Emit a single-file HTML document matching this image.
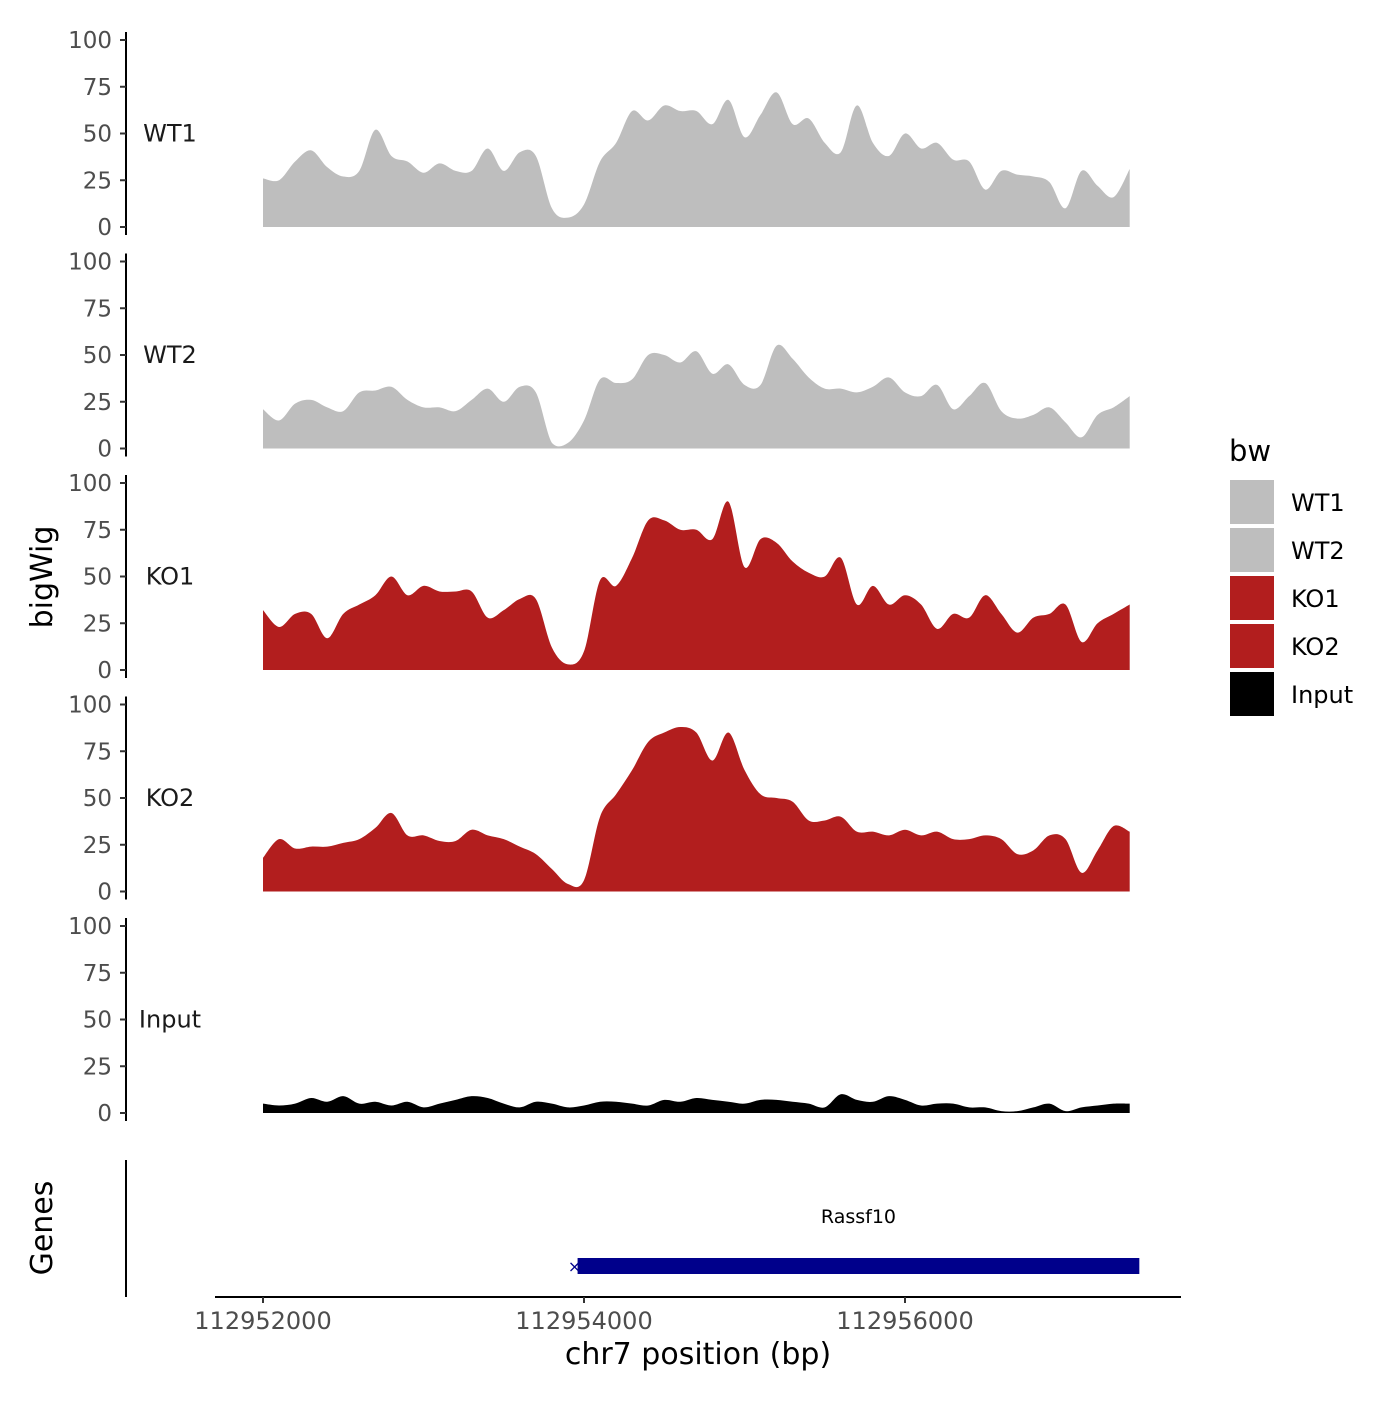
<!DOCTYPE html>
<html><head><meta charset="utf-8"><style>
html,body{margin:0;padding:0;background:#fff;}
svg text{font-family:"DejaVu Sans","Liberation Sans",sans-serif;}
</style></head><body>
<svg id="chart" width="1400" height="1400" xmlns="http://www.w3.org/2000/svg">
<g id="panels"></g>
<g id="genes">
<line x1="126" y1="1160" x2="126" y2="1297" stroke="#000" stroke-width="2"/>
<text x="52" y="1228" font-size="30" text-anchor="middle" transform="rotate(-90 52 1228)">Genes</text>
</g>
<g id="xaxis">
<line x1="215" y1="1297" x2="1181" y2="1297" stroke="#000" stroke-width="2"/>
</g>
<text x="698" y="1364" font-size="30" text-anchor="middle">chr7 position (bp)</text>
<text x="52" y="577" font-size="30" text-anchor="middle" transform="rotate(-90 52 577)">bigWig</text>
<g id="legend">
<text x="1229" y="461" font-size="29">bw</text>
</g>
</svg>
<script>
const tracks = ["WT1","WT2","KO1","KO2","Input"];
const colors = ["#BEBEBE","#BEBEBE","#B21E1E","#B21E1E","#000000"];
const startBp = 112952000;
const stepBp = 100;
const wt1 = [26,25,35,41,32,27,30,52,38,35,29,34,30,30,42,30,40,38,10,5,12,35,45,62,57,65,62,62,55,68,48,60,72,55,58,45,40,65,45,38,50,42,45,36,35,20,30,28,27,24,10,30,22,16,31];
const wt2 = [21,15,24,26,22,20,30,31,33,26,22,22,20,26,32,25,33,30,3,3,15,37,35,37,50,50,46,52,40,45,34,34,55,48,38,32,32,30,33,38,30,28,34,21,28,35,20,16,18,22,14,6,18,22,28];
const ko1 = [32,23,30,30,17,30,35,40,50,40,45,42,42,42,28,32,38,38,12,3,10,48,45,60,80,80,75,75,70,90,55,70,68,58,52,50,60,35,45,35,40,35,22,30,28,40,30,20,28,30,35,15,25,30,35];
const ko2 = [18,28,23,24,24,26,28,34,42,30,30,27,27,33,30,28,24,20,12,4,6,40,52,65,80,85,88,85,70,85,65,52,50,48,38,38,40,32,32,30,33,30,32,28,28,30,28,20,22,30,28,10,22,35,32];
const input = [5,4,5,8,6,9,5,6,4,6,3,5,7,9,8,5,3,6,5,3,4,6,6,5,4,7,6,8,7,6,5,7,7,6,5,3,10,7,6,9,7,4,5,5,3,3,1,1,3,5,1,3,4,5,5];
const seriesVals = [wt1,wt2,ko1,ko2,input];
const yTicks = [0,25,50,75,100];
const xTicks = [112952000,112954000,112956000];
const xTickLabels = ["112952000","112954000","112956000"];
const geneStart = 112953960, geneEnd = 112957460, geneName = "Rassf10";

const NS="http://www.w3.org/2000/svg";
function mk(tag, attrs, parent){const e=document.createElementNS(NS,tag);for(const k in attrs)e.setAttribute(k,attrs[k]);parent.appendChild(e);return e;}
function xs(bp){return 263 + (bp-startBp)*(321/2000);}
const panelZero=[227,448.5,670,891.5,1113];
function ys(v,p){return panelZero[p]-v*1.87;}

const panels=document.getElementById('panels');
tracks.forEach((t,p)=>{
  const g=mk('g',{},panels);
  
  
  const vals=seriesVals[p];
  const pts=vals.map((v,i)=>[xs(startBp+i*stepBp),ys(v,p)]);
  let d='M'+pts[0][0]+','+panelZero[p]+' L'+pts[0][0]+','+pts[0][1];
  for(let i=0;i<pts.length-1;i++){
    const p0=pts[Math.max(0,i-1)],p1=pts[i],p2=pts[i+1],p3=pts[Math.min(pts.length-1,i+2)];
    const c1=[p1[0]+(p2[0]-p0[0])/6,Math.min(panelZero[p],p1[1]+(p2[1]-p0[1])/6)];
    const c2=[p2[0]-(p3[0]-p1[0])/6,Math.min(panelZero[p],p2[1]-(p3[1]-p1[1])/6)];
    d+=' C'+c1[0]+','+c1[1]+' '+c2[0]+','+c2[1]+' '+p2[0]+','+p2[1];
  }
  d+=' L'+pts[pts.length-1][0]+','+panelZero[p]+' Z';
  const area=mk('path',{d:d,fill:colors[p]},g);
  
  
  const ax=mk('line',{x1:126,x2:126,y1:ys(100,p)-8,y2:panelZero[p]+8,stroke:'#000','stroke-width':2},g);
  
  
  yTicks.forEach(v=>{
    const y=ys(v,p);
    const tk=mk('line',{x1:120,x2:126,y1:y,y2:y,stroke:'#333','stroke-width':2},g);
    
    
    const tl=mk('text',{x:112,y:y+8,'font-size':23,'text-anchor':'end',fill:'#4d4d4d'},g);
    tl.textContent=v;
    
    
  });
  const lab=mk('text',{x:170,y:ys(50,p)+8,'font-size':24,'text-anchor':'middle',fill:'#1a1a1a'},g);
  lab.textContent=t;
  
  
});

const xa=document.getElementById('xaxis');
xTicks.forEach((bp,i)=>{
  const x=xs(bp);
  const tk=mk('line',{x1:x,x2:x,y1:1297,y2:1303,stroke:'#333','stroke-width':2},xa);
  
  
  const tl=mk('text',{x:x,y:1329,'font-size':24,'text-anchor':'middle',fill:'#4d4d4d'},xa);
  tl.textContent=xTickLabels[i];
  
  
});

const gg=document.getElementById('genes');
const gb=mk('rect',{x:xs(geneStart),y:1258,width:xs(geneEnd)-xs(geneStart),height:16,fill:'#00008B'},gg);


const gs=mk('text',{x:xs(geneStart)-3,y:1272,'font-size':16,'text-anchor':'middle',fill:'#00008B'},gg);
gs.textContent='×';


const gl=mk('text',{x:(xs(geneStart)+xs(geneEnd))/2,y:1223,'font-size':19,'text-anchor':'middle'},gg);
gl.textContent=geneName;



const lg=document.getElementById('legend');
tracks.forEach((t,i)=>{
  const y=480+i*48;
  const r=mk('rect',{x:1230,y:y,width:44,height:44,fill:colors[i]},lg);
  
  
  const tx=mk('text',{x:1291,y:y+31,'font-size':24},lg);
  tx.textContent=t;
  
  
});
</script>
</body></html>
